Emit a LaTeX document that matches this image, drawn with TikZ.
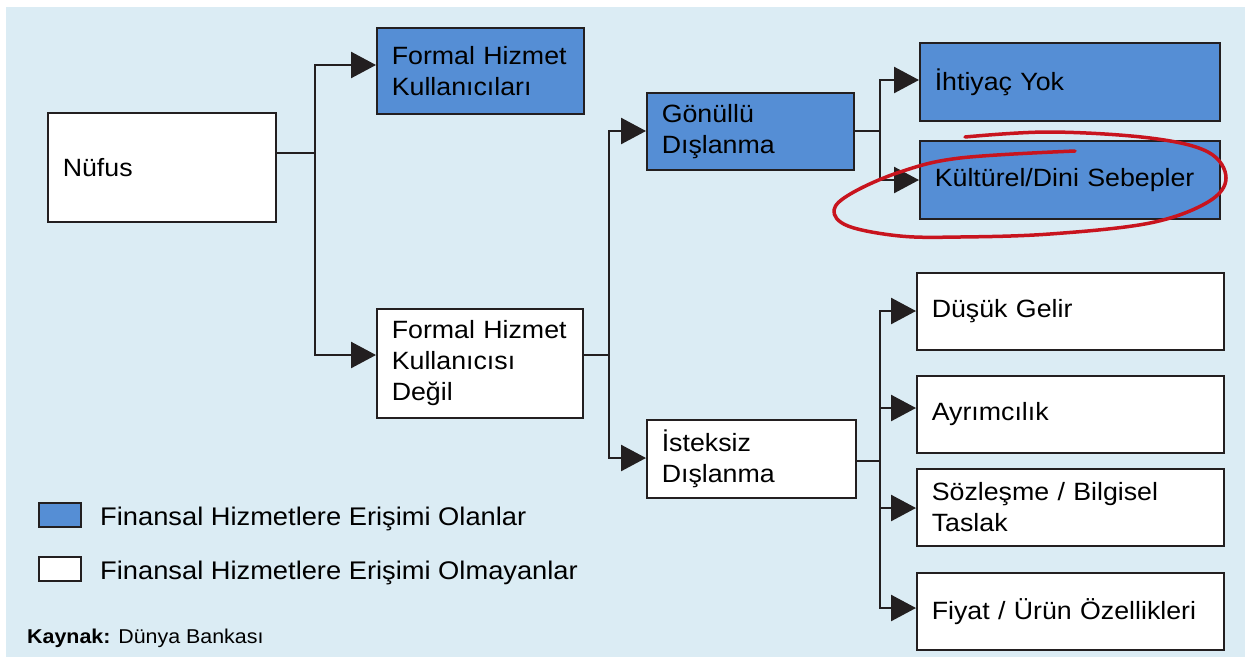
\documentclass[tikz,border=0pt]{standalone}
\usepackage{fontspec}
\setmainfont{Liberation Sans}[FakeStretch=1.07]
\usetikzlibrary{arrows.meta}
\definecolor{bgblue}{HTML}{DBECF4}
\definecolor{boxblue}{HTML}{558ED5}
\definecolor{ink}{HTML}{231F20}
\definecolor{redmark}{HTML}{C8141E}
\tikzset{
  box/.style={draw=ink, line width=1.6pt, inner xsep=15pt, inner ysep=0pt,
    align=left, anchor=north west, font=\fontsize{25}{31}\selectfont},
  bluebox/.style={box, fill=boxblue},
  whitebox/.style={box, fill=white},
  conn/.style={draw=ink, line width=2.5pt},
  arr/.style={conn, -{Triangle[length=25pt,width=26pt]}},
  legtext/.style={anchor=base west, inner sep=0pt, font=\fontsize{25.5}{31}\selectfont},
}
\begin{document}
\begin{tikzpicture}[x=1pt,y=-1pt]
\useasboundingbox (0,0) rectangle (1250,657);
\fill[bgblue] (6,7) rectangle (1245,657);

% boxes
\node[whitebox, minimum width=228pt, minimum height=109pt, text width=198pt] (nufus) at (47,112) {Nüfus};
\node[bluebox, minimum width=207pt, minimum height=86pt, text width=177pt] (fhk) at (376,27) {Formal Hizmet\\Kullanıcıları};
\node[whitebox, minimum width=206pt, minimum height=109pt, text width=176pt] (fhkd) at (376,308) {Formal Hizmet\\Kullanıcısı\\Değil};
\node[bluebox, minimum width=207pt, minimum height=77pt, text width=177pt] (gon) at (646,92) {Gönüllü\\Dışlanma};
\node[whitebox, minimum width=209pt, minimum height=78pt, text width=179pt] (ist) at (646,419) {İsteksiz\\Dışlanma};
\node[bluebox, minimum width=300pt, minimum height=78pt, text width=270pt] (iht) at (919,42) {İhtiyaç Yok};
\node[bluebox, minimum width=300pt, minimum height=78pt, text width=270pt] (kul) at (919,140) {Kültürel/Dini Sebepler};
\node[whitebox, minimum width=307pt, minimum height=77pt, text width=277pt] (dus) at (916,272) {Düşük Gelir};
\node[whitebox, minimum width=307pt, minimum height=77pt, text width=277pt] (ayr) at (916,375) {Ayrımcılık};
\node[whitebox, minimum width=307pt, minimum height=77pt, text width=277pt] (soz) at (916,468) {Sözleşme / Bilgisel\\Taslak};
\node[whitebox, minimum width=307pt, minimum height=77pt, text width=277pt] (fiy) at (916,572) {Fiyat / Ürün Özellikleri};

% junction coordinates
\coordinate (j1) at (315,153);
\coordinate (t1) at (315,65);
\coordinate (t2) at (315,355);
\coordinate (j2) at (609,355);
\coordinate (t3) at (609,131);
\coordinate (t4) at (609,458);
\coordinate (j3) at (880,131);
\coordinate (t5) at (880,80);
\coordinate (t6) at (880,180);
\coordinate (j4) at (880,461);
\coordinate (t7) at (880,311);
\coordinate (t8) at (880,408);
\coordinate (t9) at (880,508);
\coordinate (t10) at (880,608);

% connectors
\draw[conn] (nufus.east |- j1) -- (j1);
\draw[arr] (j1) -- (t1) -- (t1 -| fhk.west);
\draw[arr] (j1) -- (t2) -- (t2 -| fhkd.west);
\draw[conn] (fhkd.east |- j2) -- (j2);
\draw[arr] (j2) -- (t3) -- (t3 -| gon.west);
\draw[arr] (j2) -- (t4) -- (t4 -| ist.west);
\draw[conn] (gon.east |- j3) -- (j3);
\draw[arr] (j3) -- (t5) -- (t5 -| iht.west);
\draw[arr] (j3) -- (t6) -- (t6 -| kul.west);
\draw[conn] (ist.east |- j4) -- (j4);
\draw[arr] (j4) -- (t7) -- (t7 -| dus.west);
\draw[arr] (j4) -- (t8) -- (t8 -| ayr.west);
\draw[arr] (j4) -- (t9) -- (t9 -| soz.west);
\draw[arr] (j4) -- (t10) -- (t10 -| fiy.west);

% red hand-drawn ellipse
\draw[redmark, line width=3.5pt, line cap=round, line join=round]
  plot[smooth, tension=0.6] coordinates {(1075,151) (960,158) (900,172) (852,193) (834,210) (848,226) (900,236) (960,237) (1050,234) (1150,223) (1208,202) (1226,178) (1208,152) (1150,138) (1050,132) (965,137)};

% legend
\node[draw=ink, line width=1.6pt, fill=boxblue, minimum width=42pt, minimum height=24pt, inner sep=0pt, anchor=north west] (lb) at (38,502) {};
\node[draw=ink, line width=1.6pt, fill=white, minimum width=42pt, minimum height=24pt, inner sep=0pt, anchor=north west] (lw) at (38,556) {};
\node[legtext] (lbt) at (100,525) {Finansal Hizmetlere Erişimi Olanlar};
\node[legtext] (lwt) at (100,579) {Finansal Hizmetlere Erişimi Olmayanlar};
\node[anchor=base west, inner sep=0pt, font=\fontsize{20}{24}\selectfont] (src) at (27,643) {\textbf{Kaynak:} Dünya Bankası};
\end{tikzpicture}
\end{document}
